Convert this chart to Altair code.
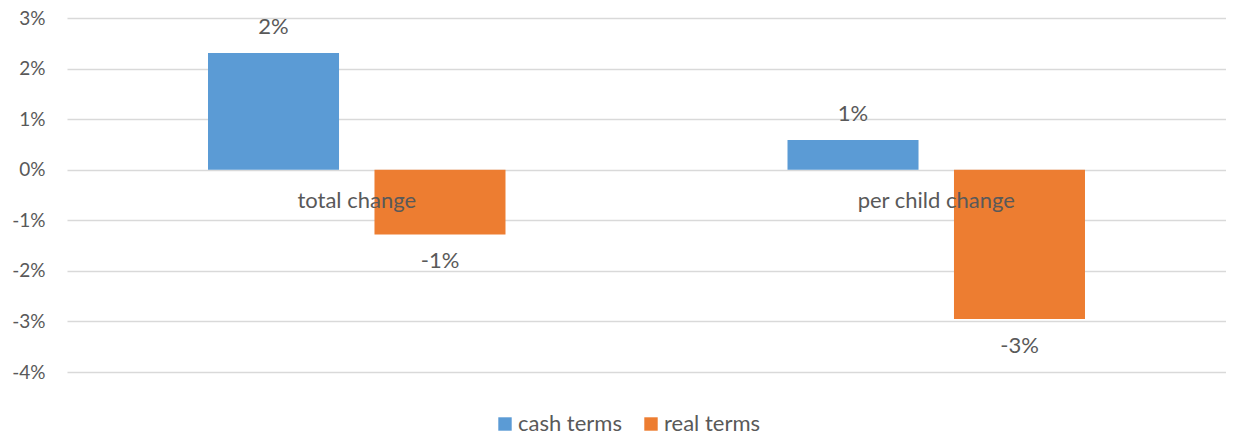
import altair as alt
import pandas as pd

categories = ["total change", "per child change"]
series = ["cash terms", "real terms"]
cash_values = [2.31, 0.59]
real_values = [-1.28, -2.95]
y_ticks = [3, 2, 1, 0, -1, -2, -3, -4]
colors = ["#5B9BD5", "#ED7D31"]

rows = []
for c, cv, rv in zip(categories, cash_values, real_values):
    rows.append({"category": c, "series": series[0], "value": cv})
    rows.append({"category": c, "series": series[1], "value": rv})
df = pd.DataFrame(rows)
cat_df = pd.DataFrame({"category": categories})

FONT = "Lato"
TEXT = "#595959"
FS = 22

x = alt.X("category:N", sort=categories, axis=None,
          scale=alt.Scale(paddingInner=0, paddingOuter=0))
xo = alt.XOffset("series:N", sort=series,
                 scale=alt.Scale(paddingInner=0.213, paddingOuter=0.847))
y = alt.Y("value:Q",
          scale=alt.Scale(domain=[-4, 3], nice=False),
          axis=alt.Axis(values=y_ticks, title=None, domain=False, ticks=False,
                        labelExpr="datum.value + '%'", labelFontSize=19,
                        labelColor=TEXT, labelFont=FONT, labelPadding=22,
                        gridColor="#d9d9d9", gridWidth=1.3))

bars = alt.Chart(df).mark_bar().encode(
    x=x, xOffset=xo, y=y,
    color=alt.Color("series:N", sort=series,
                    scale=alt.Scale(domain=series, range=colors),
                    legend=alt.Legend(orient="none", legendX=427, legendY=395,
                                      direction="horizontal", title=None,
                                      symbolType="square", symbolSize=180,
                                      symbolStrokeWidth=0,
                                      labelFontSize=FS, labelFont=FONT,
                                      labelColor=TEXT, columnPadding=18,
                                      labelOffset=2, padding=0)),
)

pos = alt.Chart(df).transform_filter("datum.value >= 0").transform_calculate(
    label="round(datum.value) + '%'"
).mark_text(dy=-26, fontSize=FS, font=FONT, color=TEXT, baseline="middle").encode(
    x=x, xOffset=xo, y=y, text="label:N"
)

neg = alt.Chart(df).transform_filter("datum.value < 0").transform_calculate(
    label="round(datum.value) + '%'"
).mark_text(dy=27, fontSize=FS, font=FONT, color=TEXT, baseline="middle").encode(
    x=x, xOffset=xo, y=y, text="label:N"
)

cats = alt.Chart(cat_df).mark_text(dy=31, fontSize=FS, font=FONT, color=TEXT,
                                   baseline="middle").encode(
    x=x, y=alt.datum(0), text="category:N"
)

chart = alt.layer(bars, pos, neg, cats).properties(
    width=1159, height=354, autosize="none",
    padding={"left": 59, "top": 10, "right": 0, "bottom": 63},
).configure_view(stroke=None)

chart.save("out.html", embed_options={"renderer": "svg", "actions": False})
